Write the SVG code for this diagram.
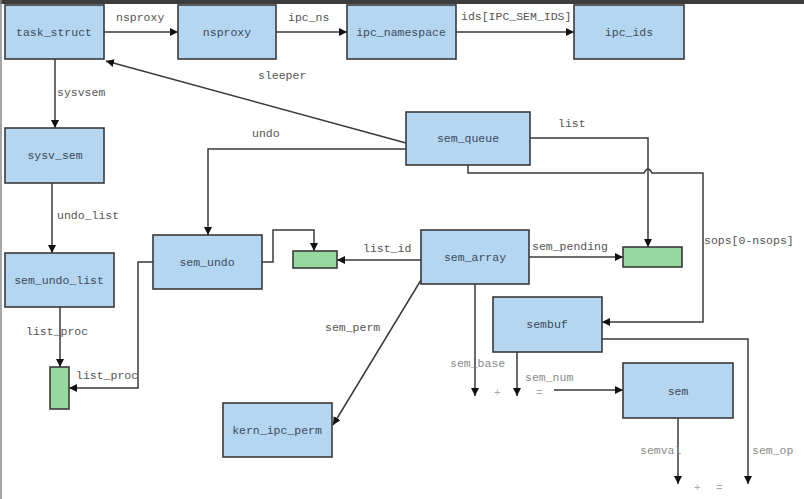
<svg xmlns="http://www.w3.org/2000/svg" width="804" height="499" viewBox="0 0 804 499">
<style>
.box{fill:#b4d6f0;stroke:#3a3a3a;stroke-width:1.6}
.gbox{fill:#96d9a0;stroke:#3a3a3a;stroke-width:1.6}
.t{font-family:"Liberation Mono",monospace;font-size:11.5px;fill:#3b4a5c;text-anchor:middle;dominant-baseline:central}
.l{font-family:"Liberation Mono",monospace;font-size:11.5px;fill:#555}
.lg{font-family:"Liberation Mono",monospace;font-size:11.5px;fill:#8a8a8a}
.lp{font-family:"Liberation Mono",monospace;font-size:11px;fill:#aaa}
.c{fill:none;stroke:#3a3a3a;stroke-width:1.5}
</style>
<defs>
<marker id="a" viewBox="0 0 10 10" refX="10" refY="5" markerWidth="8" markerHeight="8" markerUnits="userSpaceOnUse" orient="auto">
<path d="M0,0 L10,5 L0,10 z" fill="#111"/>
</marker>
</defs>
<rect x="0" y="0" width="804" height="499" fill="#fff"/>
<rect x="0" y="0" width="804" height="4" fill="#3c3c3c"/>
<line x1="1" y1="0" x2="1" y2="499" stroke="#888" stroke-width="1.5"/>

<g id="connectors">
<line class="c" x1="104" y1="32" x2="178" y2="32" marker-end="url(#a)"/>
<line class="c" x1="276" y1="32" x2="347" y2="32" marker-end="url(#a)"/>
<line class="c" x1="456" y1="32" x2="574" y2="32" marker-end="url(#a)"/>
<line class="c" x1="406" y1="143" x2="106" y2="61" marker-end="url(#a)"/>
<line class="c" x1="55" y1="59" x2="55" y2="128" marker-end="url(#a)"/>
<line class="c" x1="52" y1="183" x2="52" y2="253" marker-end="url(#a)"/>
<polyline class="c" points="406,149 208,149 208,235" marker-end="url(#a)"/>
<polyline class="c" points="262,262 273,262 273,230 314,230 314,251" marker-end="url(#a)"/>
<line class="c" x1="421" y1="260" x2="337" y2="260" marker-end="url(#a)"/>
<line class="c" x1="529" y1="257" x2="623" y2="257" marker-end="url(#a)"/>
<polyline class="c" points="530,138 648,138 648,247" marker-end="url(#a)"/>
<path class="c" d="M468,165 L468,173 L644,173 Q648,165 652,173 L703,173 L703,322 L602,322" marker-end="url(#a)"/>
<line class="c" x1="421" y1="280" x2="333" y2="425" marker-end="url(#a)"/>
<line class="c" x1="475" y1="284" x2="475" y2="396" marker-end="url(#a)"/>
<line class="c" x1="517" y1="352" x2="517" y2="396" marker-end="url(#a)"/>
<line class="c" x1="554" y1="390" x2="623" y2="390" marker-end="url(#a)"/>
<line class="c" x1="678" y1="418" x2="678" y2="484" marker-end="url(#a)"/>
<polyline class="c" points="602,339 748,339 748,484" marker-end="url(#a)"/>
<line class="c" x1="60" y1="307" x2="60" y2="367" marker-end="url(#a)"/>
<polyline class="c" points="153,262 138,262 138,388 69,388" marker-end="url(#a)"/>
</g>

<g id="labels">
<text class="l" x="116" y="21">nsproxy</text>
<text class="l" x="288" y="21">ipc_ns</text>
<text class="l" x="461" y="20">ids[IPC_SEM_IDS]</text>
<text class="l" x="258" y="79">sleeper</text>
<text class="l" x="57" y="96">sysvsem</text>
<text class="l" x="252" y="137">undo</text>
<text class="l" x="57" y="219">undo_list</text>
<text class="l" x="558" y="127">list</text>
<text class="l" x="363" y="252">list_id</text>
<text class="l" x="532" y="250">sem_pending</text>
<text class="l" x="704" y="244">sops[0-nsops]</text>
<text class="l" x="325" y="331">sem_perm</text>
<text class="l" x="26" y="335">list_proc</text>
<text class="l" x="76" y="379">list_proc</text>
<text class="lg" x="450" y="367">sem_base</text>
<text class="lg" x="525" y="381">sem_num</text>
<text class="lg" x="640" y="454">semval</text>
<text class="lg" x="752" y="454">sem_op</text>
<text class="lp" x="494" y="396">+</text>
<text class="lp" x="536" y="396">=</text>
<text class="lp" x="694" y="491">+</text>
<text class="lp" x="716" y="491">=</text>
</g>

<g id="task_struct"><rect class="box" x="5" y="5" width="99" height="54"/><text class="t" x="54" y="32">task_struct</text></g>
<g id="nsproxy"><rect class="box" x="178" y="5" width="98" height="54"/><text class="t" x="227" y="32">nsproxy</text></g>
<g id="ipc_namespace"><rect class="box" x="347" y="5" width="109" height="54"/><text class="t" x="401" y="32">ipc_namespace</text></g>
<g id="ipc_ids"><rect class="box" x="574" y="5" width="110" height="54"/><text class="t" x="629" y="32">ipc_ids</text></g>
<g id="sysv_sem"><rect class="box" x="5" y="128" width="99" height="55"/><text class="t" x="55" y="155">sysv_sem</text></g>
<g id="sem_undo_list"><rect class="box" x="5" y="253" width="109" height="54"/><text class="t" x="59" y="280">sem_undo_list</text></g>
<g id="sem_queue"><rect class="box" x="406" y="112" width="124" height="53"/><text class="t" x="468" y="138">sem_queue</text></g>
<g id="sem_undo"><rect class="box" x="153" y="235" width="109" height="54"/><text class="t" x="207" y="262">sem_undo</text></g>
<g id="list_id_box"><rect class="gbox" x="293" y="251" width="44" height="17"/></g>
<g id="sem_array"><rect class="box" x="421" y="230" width="108" height="54"/><text class="t" x="475" y="257">sem_array</text></g>
<g id="sem_pending_box"><rect class="gbox" x="623" y="247" width="59" height="20"/></g>
<g id="sembuf"><rect class="box" x="493" y="297" width="109" height="55"/><text class="t" x="547" y="324">sembuf</text></g>
<g id="kern_ipc_perm"><rect class="box" x="223" y="403" width="109" height="54"/><text class="t" x="277" y="430">kern_ipc_perm</text></g>
<g id="sem"><rect class="box" x="623" y="363" width="110" height="55"/><text class="t" x="678" y="391">sem</text></g>
<g id="list_proc_box"><rect class="gbox" x="50" y="367" width="19" height="42"/></g>
</svg>
